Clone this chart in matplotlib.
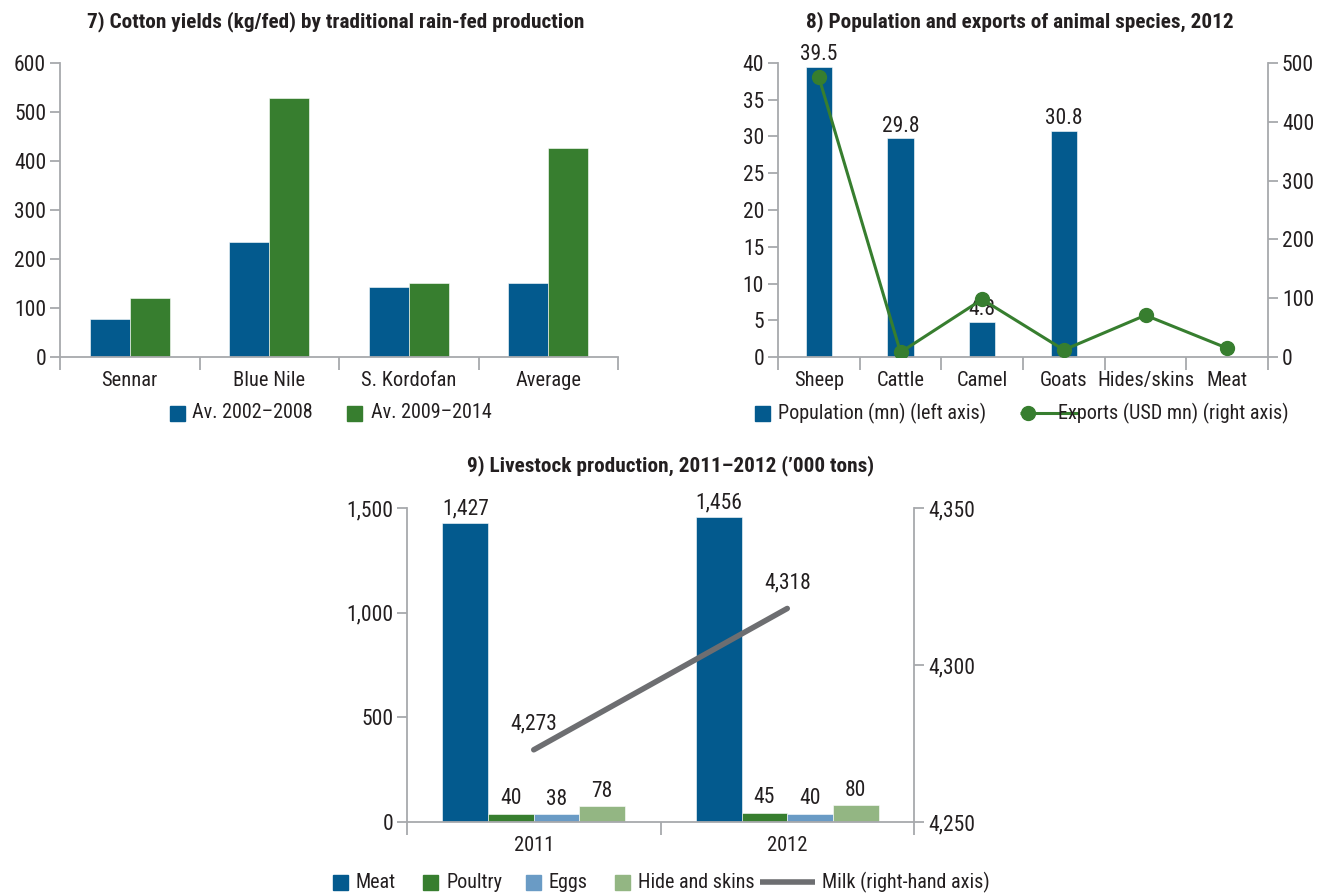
import matplotlib
matplotlib.use("Agg")
import matplotlib.pyplot as plt
from matplotlib.patches import Rectangle
from matplotlib.lines import Line2D
import numpy as np

plt.rcParams['font.family'] = ['Roboto Condensed', 'DejaVu Sans']
FS_NUM = 15.5     # tick labels and value labels
FS_CAT = 14.8     # category labels
FS_LEG = 14.5     # legend text
FS_TITLE = 15.3   # panel titles

# ---- data ----
cotton_regions = ["Sennar", "Blue Nile", "S. Kordofan", "Average"]
cotton_2002_2008 = [78, 235, 143, 151]
cotton_2009_2014 = [121, 528, 151, 426]

species = ["Sheep", "Cattle", "Camel", "Goats", "Hides/skins", "Meat"]
population_mn = [39.5, 29.8, 4.8, 30.8, np.nan, np.nan]
exports_usd_mn = [476, 8, 98, 12, 71, 15]

years = ["2011", "2012"]
meat = [1427, 1456]
poultry = [40, 45]
eggs = [38, 40]
hides = [78, 80]
milk = [4273, 4318]

BLUE = "#035a8e"
GREEN = "#377e2f"
LBLUE = "#6a9bc5"
LGREEN = "#93b683"
GREY = "#6d6e71"
SPINE = "#a7a9ac"
TXT = "#231f20"

fig = plt.figure(figsize=(13.25, 8.94), dpi=100)


def fx(px):
    return px / 1325


def fy(py):
    return 1 - py / 894


def make_axes(x0, x1, y0, y1):
    return fig.add_axes([fx(x0), fy(y1), fx(x1) - fx(x0), fy(y0) - fy(y1)])


def style_axes(ax, labels):
    n = len(labels)
    for s in ["top", "right"]:
        ax.spines[s].set_visible(False)
    for s in ["left", "bottom"]:
        ax.spines[s].set_color(SPINE)
        ax.spines[s].set_linewidth(1.3)
    ax.set_xlim(-0.5, n - 0.5)
    # boundary ticks carry the marks, centre ticks carry the labels
    ax.set_xticks(np.arange(n + 1) - 0.5)
    ax.set_xticklabels([])
    ax.set_xticks(np.arange(n), minor=True)
    ax.set_xticklabels(labels, minor=True)
    ax.tick_params(axis="x", which="major", length=9, width=1.3, color=SPINE)
    ax.tick_params(axis="x", which="minor", length=0, pad=10, labelsize=FS_CAT, labelcolor=TXT)
    ax.tick_params(axis="y", length=7, width=1.3, color=SPINE, labelsize=FS_NUM, labelcolor=TXT, pad=3)


def style_right(ax):
    for s in ["top", "left", "bottom"]:
        ax.spines[s].set_visible(False)
    ax.spines["right"].set_color(SPINE)
    ax.spines["right"].set_linewidth(1.3)
    ax.tick_params(axis="y", length=7, width=1.3, color=SPINE, labelsize=FS_NUM, labelcolor=TXT, pad=3)


def title(xc, yc, text):
    fig.text(fx(xc), fy(yc), text, ha="center", va="center", fontsize=FS_TITLE,
             fontweight="bold", color=TXT)


def legend_box(x0, yc, color, label, tx):
    s = 15
    fig.add_artist(Rectangle((fx(x0), fy(yc + s / 2)), fx(s), s / 894,
                             transform=fig.transFigure, color=color))
    fig.text(fx(tx), fy(yc), label, ha="left", va="center", fontsize=FS_LEG, color=TXT)


def legend_line(x0, x1, yc, color, lw, label, tx, marker_x=None):
    fig.add_artist(Line2D([fx(x0), fx(x1)], [fy(yc), fy(yc)], transform=fig.transFigure,
                          color=color, lw=lw, solid_capstyle="butt"))
    if marker_x is not None:
        fig.add_artist(Line2D([fx(marker_x)], [fy(yc)], transform=fig.transFigure,
                              color=color, marker="o", ms=10, lw=0))
    fig.text(fx(tx), fy(yc), label, ha="left", va="center", fontsize=FS_LEG, color=TXT)


# ---- 7) Cotton yields ----
ax7 = make_axes(60, 618, 63, 357)
x = np.arange(len(cotton_regions))
w = 0.287
ax7.bar(x - w / 2, cotton_2002_2008, w, color=BLUE, edgecolor="white", linewidth=0.4)
ax7.bar(x + w / 2, cotton_2009_2014, w, color=GREEN, edgecolor="white", linewidth=0.4)
style_axes(ax7, cotton_regions)
ax7.set_ylim(0, 600)
ax7.set_yticks(range(0, 601, 100))
title(336, 22, "7) Cotton yields (kg/fed) by traditional rain-fed production")
legend_box(170, 413, BLUE, "Av. 2002\u20132008", 192)
legend_box(347, 413, GREEN, "Av. 2009\u20132014", 371)

# ---- 8) Population and exports ----
ax8 = make_axes(778, 1268, 63, 357)
x = np.arange(len(species))
ax8.bar(x, population_mn, 0.32, color=BLUE, edgecolor="white", linewidth=0.4)
for xi, v in zip(x, population_mn):
    if not np.isnan(v):
        ax8.annotate(f"{v:.1f}", (xi, v), xytext=(0, 1), textcoords="offset points",
                     ha="center", va="bottom", fontsize=FS_NUM, color=TXT)
style_axes(ax8, species)
ax8.set_ylim(0, 40)
ax8.set_yticks(range(0, 41, 5))
ax8r = ax8.twinx()
ax8r.plot(x, exports_usd_mn, color=GREEN, lw=2.2, marker="o", ms=10, zorder=5)
ax8r.set_ylim(0, 500)
ax8r.set_yticks(range(0, 501, 100))
style_right(ax8r)
title(1020, 22, "8) Population and exports of animal species, 2012")
legend_box(755, 413, BLUE, "Population (mn) (left axis)", 778)
legend_line(1020, 1078, 413, GREEN, 2.2, "Exports (USD mn) (right axis)", 1058, marker_x=1028)

# ---- 9) Livestock production ----
ax9 = make_axes(407, 914, 508, 822)
x = np.arange(len(years))
bw = 0.18
series = [(meat, BLUE, "Meat"), (poultry, GREEN, "Poultry"),
          (eggs, LBLUE, "Eggs"), (hides, LGREEN, "Hide and skins")]
for i, (vals, col, lab) in enumerate(series):
    pos = x + (i - 1.5) * bw
    ax9.bar(pos, vals, bw, color=col, edgecolor="white", linewidth=0.4)
    for p, v in zip(pos, vals):
        ax9.annotate(f"{v:,}", (p, v), xytext=(0, 3), textcoords="offset points",
                     ha="center", va="bottom", fontsize=FS_NUM, color=TXT)
style_axes(ax9, years)
ax9.set_ylim(0, 1500)
ax9.set_yticks([0, 500, 1000, 1500])
ax9.set_yticklabels([f"{v:,}" for v in [0, 500, 1000, 1500]])
ax9r = ax9.twinx()
ax9r.plot(x, milk, color=GREY, lw=4, solid_capstyle="round")
for xi, v in zip(x, milk):
    ax9r.annotate(f"{v:,}", (xi, v), xytext=(0, 11), textcoords="offset points",
                  ha="center", va="bottom", fontsize=FS_NUM, color=TXT)
ax9r.set_ylim(4250, 4350)
ax9r.set_yticks([4250, 4300, 4350])
ax9r.set_yticklabels([f"{v:,}" for v in [4250, 4300, 4350]])
style_right(ax9r)
title(671, 466, "9) Livestock production, 2011\u20132012 (\u2019000 tons)")
legend_box(333, 882, BLUE, "Meat", 356)
legend_box(423, 882, GREEN, "Poultry", 446)
legend_box(526, 882, LBLUE, "Eggs", 548)
legend_box(615, 882, LGREEN, "Hide and skins", 638)
legend_line(760, 815, 882, GREY, 4, "Milk (right-hand axis)", 822)

fig.savefig("out.png", dpi=100)
